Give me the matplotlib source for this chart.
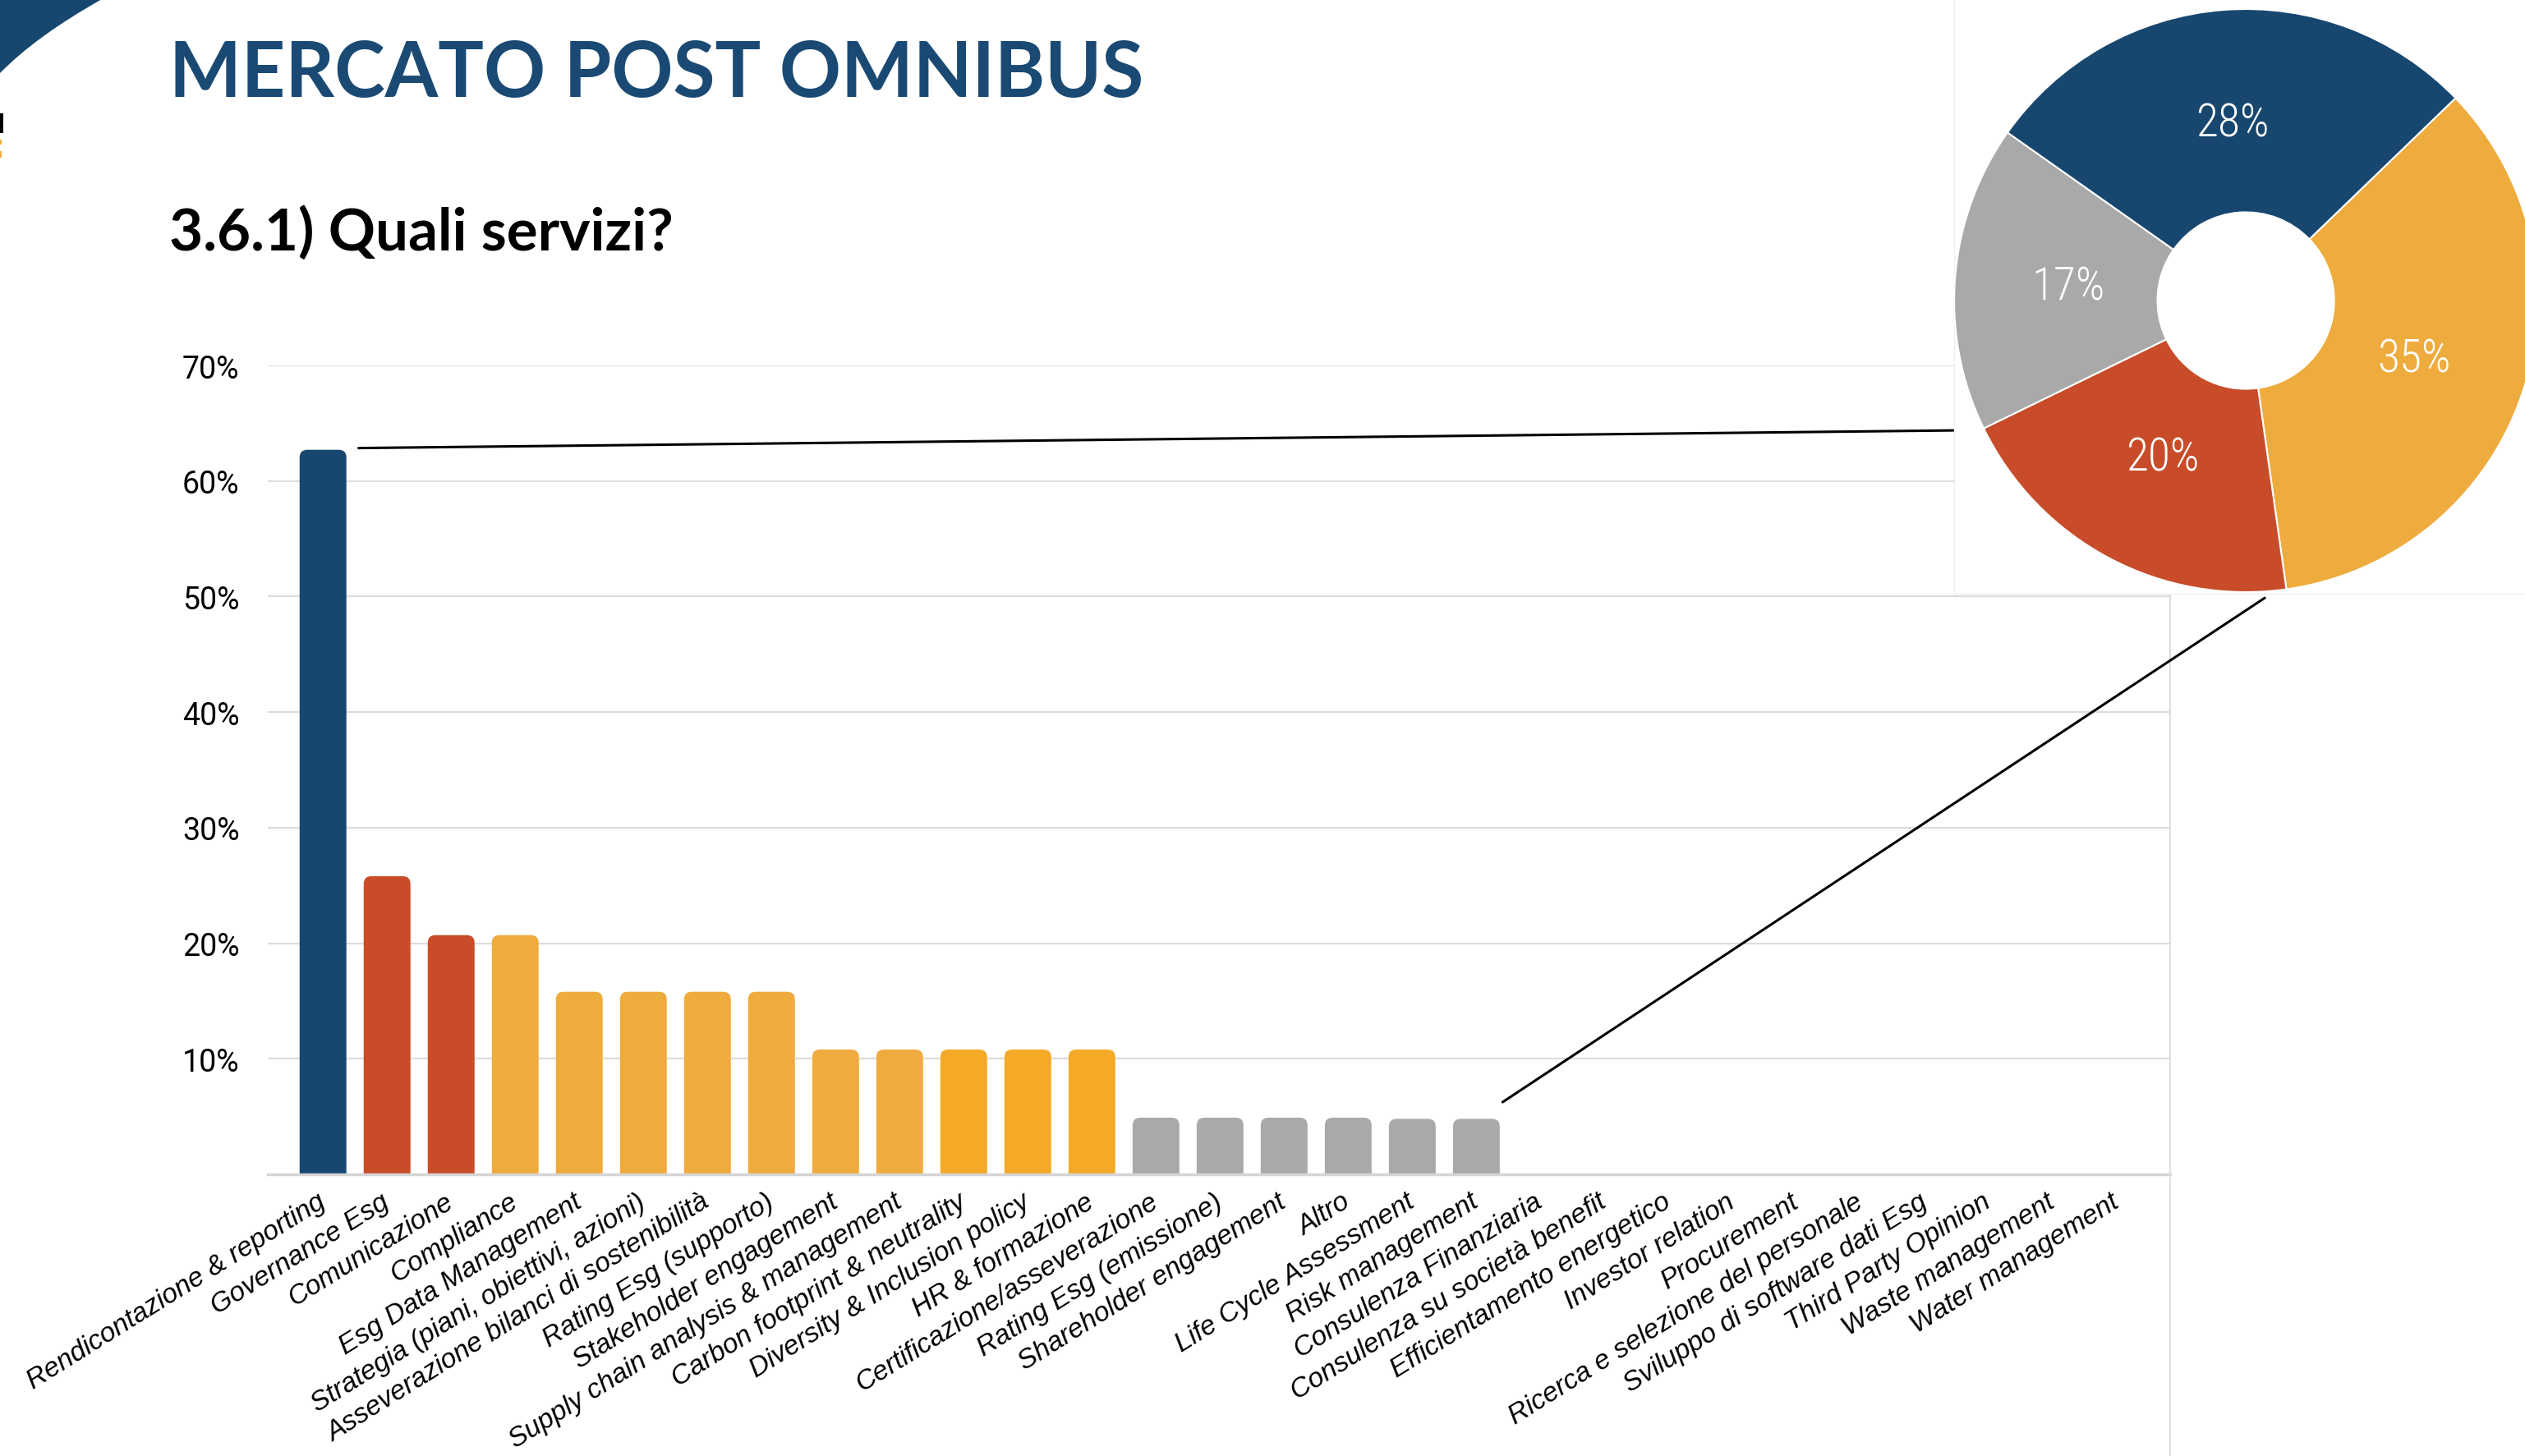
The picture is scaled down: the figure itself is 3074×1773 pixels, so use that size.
import matplotlib
matplotlib.use("Agg")
import matplotlib.pyplot as plt
from matplotlib import font_manager
from matplotlib.patches import FancyBboxPatch, Rectangle, PathPatch, ConnectionPatch
from matplotlib.path import Path
from matplotlib.lines import Line2D

# dati del grafico
categorie = [
    "Rendicontazione & reporting", "Governance Esg", "Comunicazione", "Compliance",
    "Esg Data Management", "Strategia (piani, obiettivi, azioni)",
    "Asseverazione bilanci di sostenibilità", "Rating Esg (supporto)",
    "Stakeholder engagement", "Supply chain analysis & management",
    "Carbon footprint & neutrality", "Diversity & Inclusion policy", "HR & formazione",
    "Certificazione/asseverazione", "Rating Esg (emissione)", "Shareholder engagement",
    "Altro", "Life Cycle Assessment", "Risk management", "Consulenza Finanziaria",
    "Consulenza su società benefit", "Efficientamento energetico", "Investor relation",
    "Procurement", "Ricerca e selezione del personale", "Sviluppo di software dati Esg",
    "Third Party Opinion", "Waste management", "Water management",
]
valori = [62.7, 25.8, 20.7, 20.7, 15.8, 15.8, 15.8, 15.8, 10.8, 10.8, 10.8, 10.8, 10.8,
          4.9, 4.9, 4.9, 4.9, 4.8, 4.8, 0, 0, 0, 0, 0, 0, 0, 0, 0, 0]
BLU, ROSSO, ARANCIO, ARANCIO2, GRIGIO = "#17476F", "#C84C29", "#EFAC3E", "#F4A927", "#A9A9A9"
colori = [BLU, ROSSO, ROSSO, ARANCIO, ARANCIO, ARANCIO, ARANCIO, ARANCIO, ARANCIO, ARANCIO,
          ARANCIO2, ARANCIO2, ARANCIO2, GRIGIO, GRIGIO, GRIGIO, GRIGIO, GRIGIO, GRIGIO,
          GRIGIO, GRIGIO, GRIGIO, GRIGIO, GRIGIO, GRIGIO, GRIGIO, GRIGIO, GRIGIO, GRIGIO]
y_ticks = [10, 20, 30, 40, 50, 60, 70]
y_labels = ["10%", "20%", "30%", "40%", "50%", "60%", "70%"]

# ciambella
torta_valori = [35, 20, 17, 28]
torta_colori = [ARANCIO, ROSSO, GRIGIO, BLU]

nomi = {f.name for f in font_manager.fontManager.ttflist}
narrow = "Liberation Sans Narrow" if "Liberation Sans Narrow" in nomi else "Roboto"
cond = "Roboto Condensed" if "Roboto Condensed" in nomi else narrow

fig = plt.figure(figsize=(30.74, 17.74), dpi=100)
fig.patch.set_facecolor("white")

# grafico a barre
ax = fig.add_axes([0.1061, 0.19335, 0.75342, 0.55524])
bars = ax.bar(range(len(categorie)), valori, width=0.73, color=colori)
ax.set_xlim(-0.86, 28.83)
ax.set_ylim(0, 70)

# barre con angoli arrotondati
px_x = ax.transData.transform((1, 0))[0] - ax.transData.transform((0, 0))[0]
px_y = ax.transData.transform((0, 1))[1] - ax.transData.transform((0, 0))[1]
asp = px_x / px_y
for b in bars:
    h = b.get_height()
    if h <= 0:
        b.remove()
        continue
    p = FancyBboxPatch((b.get_x(), -5), b.get_width(), h + 5,
                       boxstyle="round,pad=0,rounding_size=0.12",
                       mutation_aspect=asp, facecolor=b.get_facecolor(),
                       edgecolor="none", zorder=2)
    ax.add_patch(p)
    b.remove()

ax.set_yticks(y_ticks)
ax.set_yticklabels(y_labels, family=narrow, fontsize=27)
ax.yaxis.grid(True, color="#DDDDDD", lw=1.6)
ax.set_axisbelow(True)
ax.tick_params(axis="y", length=0, pad=25)
ax.set_xticks(range(len(categorie)))
ax.set_xticklabels(categorie, rotation=32, ha="right", va="center",
                   rotation_mode="anchor", fontstyle="italic", fontsize=24,
                   family="Liberation Sans")
ax.tick_params(axis="x", length=0, pad=22)
for s in ["top", "left", "right"]:
    ax.spines[s].set_visible(False)
ax.spines["bottom"].set_color("#D5D5D5")
ax.spines["bottom"].set_linewidth(2.5)

# linea verticale a destra
fig.add_artist(Line2D([0.8595, 0.8595], [0, 1], transform=fig.transFigure,
                      color="#DDDDDD", lw=1.5, zorder=1))

# linea dalla prima barra verso la torta
ax.plot([0.56, 25.8], [62.85, 64.4], color="black", lw=2.2, clip_on=False, zorder=3)

# riquadro bianco della torta
fig.add_artist(Rectangle((0.7739, 0.5919), 0.3, 0.5, transform=fig.transFigure,
                         facecolor="white", edgecolor="#EFEFEF", lw=1, zorder=2))

pax = fig.add_axes([0.77394, 0.5930, 0.23097, 0.40023])
pax.set_zorder(5)
wedges, _, autotexts = pax.pie(
    torta_valori, colors=torta_colori, startangle=44, counterclock=False,
    wedgeprops=dict(width=0.697, edgecolor="white", linewidth=1.5),
    autopct=lambda p: f"{p:.0f}%", pctdistance=0.61,
    textprops=dict(color="white", fontsize=40, family=cond, weight="light"))
pax.set_xlim(-1, 1)
pax.set_ylim(-1, 1)
pax.set_aspect("equal")
pax.axis("off")

con = ConnectionPatch(xyA=(18.41, 6.25), coordsA=ax.transData,
                      xyB=(0.065, -1.02), coordsB=pax.transData,
                      color="black", lw=2.2, zorder=6)
fig.add_artist(con)

# decorazione in alto a sinistra
W, H = 3074, 1774
verts = [(0, 1), (124 / W, 1), (44 / W, 1 - 45 / H), (0, 1 - 90 / H), (0, 1)]
codes = [Path.MOVETO, Path.LINETO, Path.CURVE3, Path.CURVE3, Path.CLOSEPOLY]
fig.add_artist(PathPatch(Path(verts, codes), transform=fig.transFigure,
                         facecolor=BLU, edgecolor="none", zorder=3))
# resti di testo tagliati sul bordo sinistro
fig.add_artist(Rectangle((0, 1 - 163 / H), 4 / W, 24 / H, transform=fig.transFigure,
                         facecolor="black", edgecolor="none"))
fig.add_artist(Rectangle((0, 1 - 177 / H), 2 / W, 6 / H, transform=fig.transFigure,
                         facecolor=ARANCIO, edgecolor="none"))
fig.add_artist(Rectangle((0, 1 - 193 / H), 2 / W, 8 / H, transform=fig.transFigure,
                         facecolor=ARANCIO, edgecolor="none"))

# titoli
fig.text(206 / W, 1 - 118 / H, "MERCATO POST OMNIBUS", family="Lato", weight="bold",
         fontsize=67, color="#1A4A73", va="baseline", ha="left")
fig.text(206 / W, 1 - 305 / H, "3.6.1) Quali servizi?", family="Lato", weight="bold",
         fontsize=51, color="black", va="baseline", ha="left")

fig.savefig("out.png", dpi=100)
